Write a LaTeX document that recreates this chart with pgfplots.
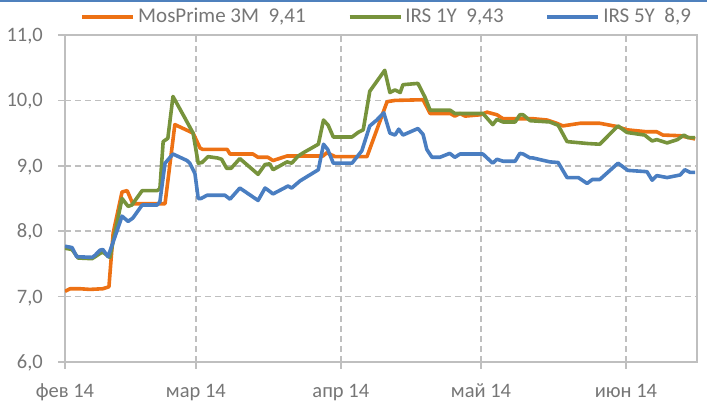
\documentclass[border=0pt]{standalone}
\usepackage{fontspec}
\setmainfont{Carlito}
\usepackage{pgfplots}
\pgfplotsset{compat=1.18}
\definecolor{cOr}{RGB}{237,113,20}
\definecolor{cGr}{RGB}{119,147,60}
\definecolor{cBl}{RGB}{74,126,193}
\definecolor{cTx}{RGB}{118,118,118}
\definecolor{cGrid}{RGB}{191,191,191}
\definecolor{cTop}{RGB}{79,129,189}
\begin{document}
\fontsize{21}{25}\selectfont
\begin{tikzpicture}[font=\fontsize{21}{25}\selectfont]
\useasboundingbox (-65pt,-44pt) rectangle (642pt,362pt);
\fill[cTop] (-65pt,359.5pt) rectangle (642pt,362pt);
\begin{axis}[
  at={(0pt,0pt)}, anchor=south west,
  scale only axis, width=632pt, height=327pt,
  xmin=0, xmax=135.2, ymin=6, ymax=11,
  ytick={6,7,8,9,10,11},
  xtick={0,28,59,89,120},
  xticklabels={фев 14, мар 14, апр 14, май 14, июн 14},
  xtick pos=left, ytick pos=left,
  tick align=outside, major tick length=7pt,
  grid=major,
  major grid style={cGrid, dash pattern=on 6pt off 4pt, line width=1.5pt},
  axis line style={cGrid, line width=1.5pt},
  tick style={cGrid, line width=1.5pt},
  /pgf/number format/assume math mode=true,
  yticklabel={\pgfmathprintnumber[fixed,fixed zerofill,precision=1,use comma]{\tick}},
  tick label style={font=\fontsize{20.5}{25}\selectfont, text=cTx},
  yticklabel style={anchor=base east, inner sep=0pt, xshift=-15pt, yshift=-6.5pt},
  xticklabel style={anchor=base, inner sep=0pt, yshift=-28.5pt},
  legend columns=3,
  legend style={at={(axis description cs:0.51,1.055)}, anchor=center, draw=none, fill=none,
    font=\fontsize{21}{25}\selectfont, text=cTx,
    nodes={font=\fontsize{21}{25}\selectfont, inner sep=3pt},
    /tikz/every even column/.append style={column sep=39pt}},
  legend image code/.code={\draw[#1] (0pt,0pt) -- (51pt,0pt);},
  every axis plot/.append style={line width=3.6pt, line join=round, no marks},
]
\addplot[cOr] coordinates {
(0,7.08)(1.07,7.12)(3.2,7.12)(5.3,7.11)(8.1,7.12)(9.4,7.15)(10.3,7.97)(12.2,8.60)(13.3,8.62)(14.5,8.42)(21.4,8.42)(23.5,9.63)(27.4,9.50)(28.9,9.27)(29.5,9.25)(34.7,9.25)(35.3,9.18)(40.2,9.18)(41.3,9.13)(43.4,9.13)(44.5,9.08)(47.5,9.15)(55.2,9.15)(56.0,9.20)(57.8,9.14)(64.6,9.14)(68.9,9.98)(70.6,10.00)(76.6,10.01)(78.1,9.80)(82.4,9.80)(83.4,9.76)(84.5,9.80)(85.6,9.76)(88.8,9.78)(90.3,9.82)(92.4,9.78)(93.7,9.72)(100.1,9.72)(103.1,9.70)(105.2,9.65)(106.5,9.61)(110.2,9.65)(114.4,9.65)(118.1,9.60)(120.2,9.55)(124.5,9.52)(126.6,9.52)(127.9,9.47)(131.6,9.46)(134.8,9.41)
};
\addlegendentry{MosPrime 3M\ \ 9,41}
\addplot[cGr] coordinates {
(0,7.74)(1.5,7.72)(2.8,7.59)(5.8,7.58)(7.5,7.66)(8.1,7.68)(9.6,7.60)(12.2,8.50)(13.5,8.38)(14.3,8.40)(16.5,8.62)(19.7,8.62)(20.3,8.65)(21.0,9.37)(22.0,9.42)(23.1,10.06)(25.5,9.75)(27.4,9.50)(28.5,9.04)(29.3,9.05)(30.6,9.14)(32.6,9.12)(33.5,9.10)(34.6,8.96)(35.5,8.96)(37.4,9.11)(41.3,8.87)(42.8,9.02)(43.8,9.03)(44.5,8.94)(47.5,9.06)(48.5,9.04)(49.9,9.15)(51.0,9.20)(54.2,9.33)(55.3,9.70)(56.3,9.62)(57.4,9.44)(61.4,9.44)(62.7,9.51)(63.8,9.55)(65.2,10.14)(66.3,10.25)(68.4,10.46)(69.5,10.12)(70.6,10.16)(71.7,10.12)(72.3,10.24)(75.5,10.26)(77.0,10.05)(78.1,9.85)(82.4,9.85)(83.4,9.80)(89.4,9.80)(91.5,9.63)(92.4,9.71)(93.7,9.67)(96.3,9.67)(97.3,9.78)(98.0,9.78)(99.5,9.69)(103.7,9.67)(105.5,9.62)(107.4,9.37)(111.9,9.34)(114.4,9.33)(118.3,9.61)(120.2,9.51)(124.0,9.47)(125.6,9.38)(126.6,9.40)(128.8,9.35)(131.0,9.40)(132.4,9.47)(133.3,9.43)(134.8,9.43)
};
\addlegendentry{IRS 1Y\ \ 9,43}
\addplot[cBl] coordinates {
(0,7.77)(1.5,7.75)(2.5,7.61)(5.8,7.60)(6.4,7.63)(7.5,7.71)(8.1,7.72)(9.2,7.61)(11.1,8.00)(12.2,8.23)(13.5,8.15)(14.5,8.20)(16.5,8.40)(19.7,8.40)(20.3,8.45)(21.4,9.04)(23.1,9.18)(26.1,9.08)(26.7,9.04)(27.8,8.88)(28.5,8.50)(29.1,8.50)(30.4,8.55)(34.2,8.55)(35.3,8.49)(37.4,8.66)(41.3,8.47)(42.8,8.66)(43.4,8.63)(44.5,8.57)(47.7,8.69)(48.5,8.66)(50.3,8.77)(54.2,8.94)(55.3,9.33)(56.2,9.25)(57.4,9.04)(61.4,9.04)(63.5,9.23)(65.2,9.61)(66.7,9.70)(68.2,9.81)(69.5,9.50)(70.6,9.47)(71.4,9.56)(72.3,9.47)(75.5,9.57)(76.6,9.48)(77.4,9.25)(78.5,9.13)(80.2,9.13)(82.3,9.19)(83.4,9.13)(84.5,9.18)(89.4,9.18)(91.5,9.04)(92.4,9.10)(93.7,9.07)(96.3,9.07)(97.3,9.19)(98.0,9.18)(99.5,9.12)(100.1,9.12)(103.7,9.06)(105.5,9.05)(107.4,8.82)(109.8,8.82)(111.7,8.73)(112.8,8.79)(114.4,8.79)(118.3,9.04)(120.4,8.93)(124.5,8.91)(125.6,8.78)(126.6,8.85)(128.8,8.82)(131.6,8.86)(132.6,8.94)(133.7,8.90)(134.8,8.90)
};
\addlegendentry{IRS 5Y\ \ 8,9}
\end{axis}
\end{tikzpicture}
\end{document}
